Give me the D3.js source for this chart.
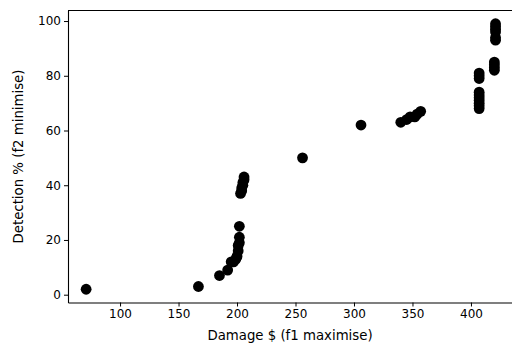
<!DOCTYPE html>
<html>
<head>
<meta charset="utf-8">
<script src="https://cdn.jsdelivr.net/npm/d3@7"></script>
<style>
  body { margin: 0; background: #fff; overflow: hidden; }
  text { font-family: "DejaVu Sans", sans-serif; }
</style>
</head>
<body>
<div id="chart"></div>
<script>
// Pareto front points: damage (f1) vs detection (f2)
const damage = [71, 167, 185, 192, 195, 197, 199, 200, 201, 201, 202, 202, 202,
  203, 204, 204, 205, 205, 206, 206,
  256, 306, 340, 345, 348, 352, 354, 357,
  407, 407, 407, 407, 407, 407, 407, 407, 407, 407,
  420, 420, 420, 420, 421, 421, 421, 421, 421, 421];
const detection = [2, 3, 7, 9, 12, 12, 13, 14, 16, 18, 19, 21, 25,
  37, 38, 39, 40, 41, 42, 43,
  50, 62, 63, 64, 65, 65, 66, 67,
  68, 69, 70, 71, 72, 73, 74, 79, 80, 81,
  82, 83, 84, 85, 93, 94, 96, 97, 98, 99];
const xTicks = [100, 150, 200, 250, 300, 350, 400];
const yTicks = [0, 20, 40, 60, 80, 100];

const width = 512, height = 351;
const mLeft = 68, mRight = 516, mTop = 10.5, mBottom = 302.5;

const svg = d3.select("#chart").append("svg")
  .attr("width", width)
  .attr("height", height);

const x = d3.scaleLinear().domain([55.5, 438.5]).range([mLeft, mRight]);
const y = d3.scaleLinear().domain([-2.85, 103.85]).range([mBottom, mTop]);

// points
svg.append("g")
  .selectAll("circle")
  .data(damage.map((d, i) => [d, detection[i]]))
  .enter()
  .append("circle")
  .attr("cx", d => x(d[0]))
  .attr("cy", d => y(d[1]))
  .attr("r", 5.4)
  .attr("fill", "#000");

// axes
const xAxis = svg.append("g")
  .attr("transform", `translate(0,${mBottom})`)
  .call(d3.axisBottom(x).tickValues(xTicks).tickSize(4).tickPadding(3).tickSizeOuter(0));
const yAxis = svg.append("g")
  .attr("transform", `translate(${mLeft},0)`)
  .call(d3.axisLeft(y).tickValues(yTicks).tickSize(4).tickPadding(3).tickSizeOuter(0));

[xAxis, yAxis].forEach(a => {
  a.selectAll("text").attr("font-size", 12).attr("fill", "#000")
    .attr("font-family", "DejaVu Sans");
  a.select(".domain").attr("stroke", "#000").attr("stroke-width", 1.1);
  a.selectAll(".tick line").attr("stroke", "#000").attr("stroke-width", 1);
});

// top and right spines
svg.append("line")
  .attr("x1", mLeft).attr("x2", mRight)
  .attr("y1", mTop).attr("y2", mTop)
  .attr("stroke", "#000").attr("stroke-width", 1.1);
svg.append("line")
  .attr("x1", mRight).attr("x2", mRight)
  .attr("y1", mTop).attr("y2", mBottom)
  .attr("stroke", "#000").attr("stroke-width", 1.1);

// axis titles
svg.append("text")
  .attr("x", 290)
  .attr("y", 340)
  .attr("text-anchor", "middle")
  .attr("font-size", 13.3)
  .text("Damage $ (f1 maximise)");

svg.append("text")
  .attr("transform", `translate(23,${(mTop + mBottom) / 2}) rotate(-90)`)
  .attr("text-anchor", "middle")
  .attr("font-size", 13.3)
  .text("Detection % (f2 minimise)");
</script>
</body>
</html>
